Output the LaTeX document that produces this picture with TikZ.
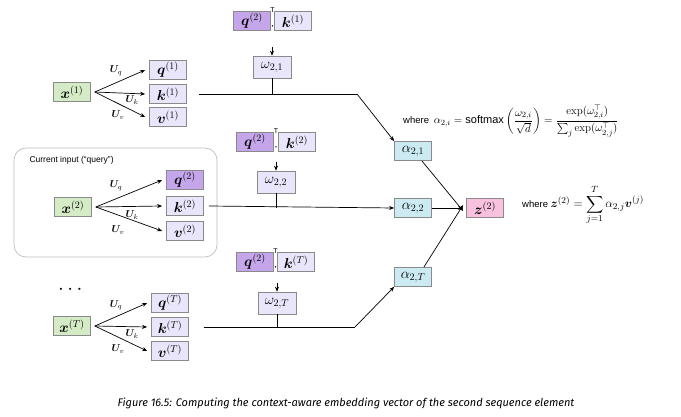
\documentclass[tikz,border=0pt]{standalone}
\usepackage{amsmath,bm}
\usepackage{fontspec}
\newfontfamily\capfont{Fira Sans}
\setsansfont{Liberation Sans}
\usetikzlibrary{arrows.meta,calc}
\definecolor{lav}{HTML}{E9E5FA}
\definecolor{dpur}{HTML}{C6A6EA}
\definecolor{grn}{HTML}{D5EBC6}
\definecolor{cyn}{HTML}{CBEAF2}
\definecolor{pnk}{HTML}{F8C2DE}
\definecolor{bord}{HTML}{8A8A8A}
\begin{document}
\begin{tikzpicture}[x=1pt,y=-1pt,
 box/.style={draw=bord,line width=0.7pt,minimum width=37pt,minimum height=19pt,inner sep=0pt,font=\fontsize{14}{14}\selectfont},
 vb/.style={box,fill=lav},
 qb/.style={box,fill=dpur},
 xb/.style={box,fill=grn},
 ab/.style={box,fill=cyn},
 zb/.style={box,fill=pnk},
 ar/.style={-{Stealth[length=5pt,width=4pt]},line width=0.7pt},
 ln/.style={line width=0.8pt},
 ul/.style={font=\fontsize{10}{10}\selectfont,inner sep=0pt}]
\useasboundingbox (0,0) rectangle (681,417);
% current input box
\draw[rounded corners=12pt,draw=gray!50,line width=0.7pt] (14,148) rectangle (217,257);
\node[anchor=west,font=\sffamily\fontsize{8.5}{8.5}\selectfont] (cur) at (26,160) {Current input (``query'')};
% row 1
\node[xb] (x1) at (72,92) {$\bm{x}^{(1)}$};
\node[vb] (q1) at (168,70) {$\bm{q}^{(1)}$};
\node[vb] (k1) at (168,94) {$\bm{k}^{(1)}$};
\node[vb] (v1) at (168,117) {$\bm{v}^{(1)}$};
% row 2
\node[xb] (x2) at (73,207) {$\bm{x}^{(2)}$};
\node[qb] (q2) at (185,180) {$\bm{q}^{(2)}$};
\node[vb] (k2) at (185,206) {$\bm{k}^{(2)}$};
\node[vb] (v2) at (185,231) {$\bm{v}^{(2)}$};
% row T
\node[font=\fontsize{20}{20}\selectfont] (dots) at (72,290) {$\cdots$};
\node[xb] (xT) at (72,326) {$\bm{x}^{(T)}$};
\node[vb] (qT) at (170,303) {$\bm{q}^{(T)}$};
\node[vb] (kT) at (170,327) {$\bm{k}^{(T)}$};
\node[vb] (vT) at (170,351) {$\bm{v}^{(T)}$};
% arrows from x
\foreach \x/\q/\k/\v in {x1/q1/k1/v1, x2/q2/k2/v2, xT/qT/kT/vT}{
 \coordinate (s) at ([xshift=4pt]\x.east);
 \draw[ar] (s) -- ([xshift=-4pt]\q.west);
 \draw[ar] (s) -- ([xshift=-4pt]\k.west);
 \draw[ar] (s) -- ([xshift=-4pt]\v.west);
}
\foreach \y in {92,207,326}{
 \node[ul] at (116,\y-21) {$\bm{U}_q$};
 \node[ul] at (132,\y+8) {$\bm{U}_k$};
 \node[ul] at (118,\y+23) {$\bm{U}_v$};
}
% dot products
\node[qb] (dq1) at (252,21) {$\bm{q}^{(2)}$};
\node[vb] (dk1) at (293,21) {$\bm{k}^{(1)}$};
\node[qb] (dq2) at (255,142) {$\bm{q}^{(2)}$};
\node[vb] (dk2) at (297,142) {$\bm{k}^{(2)}$};
\node[qb] (dqT) at (255,262) {$\bm{q}^{(2)}$};
\node[vb] (dkT) at (296,262) {$\bm{k}^{(T)}$};
\foreach \a/\b in {dq1/dk1,dq2/dk2,dqT/dkT}{
 \node[font=\sffamily\fontsize{7}{7}\selectfont,inner sep=0pt] at ($(\a.north east)!0.5!(\b.north west)+(0,-1)$) {T};
 \fill ($(\a.south east)!0.5!(\b.south west)+(0,-5)$) circle (0.8pt);
}
\node[vb,minimum width=38pt,minimum height=22pt] (w1) at (272,67) {$\omega_{2,1}$};
\node[vb,minimum width=38pt,minimum height=22pt] (w2) at (276,182) {$\omega_{2,2}$};
\node[vb,minimum width=38pt,minimum height=22pt] (wT) at (277,303) {$\omega_{2,T}$};
\draw[ar,line width=0.6pt] (272,47) -- (w1.north);
\draw[ar,line width=0.6pt] (276,162) -- (w2.north);
\draw[ar,line width=0.6pt] (277,283) -- (wT.north);
% alphas
\node[ab] (a1) at (413,151) {$\alpha_{2,1}$};
\node[ab] (a2) at (413,208) {$\alpha_{2,2}$};
\node[ab] (aT) at (413,277) {$\alpha_{2,T}$};
\node[zb] (z) at (485,208) {$\bm{z}^{(2)}$};
\coordinate (b1) at (357,94);
\coordinate (bT) at (355,327);
\draw[ln] ([xshift=12pt]k1.east) -- (b1);
\draw[ar] (b1) -- (a1.north west);
\draw[ln] (w1.south) -- (w1.south |- b1);
\draw[ar] ([xshift=5pt]k2.east) -- (a2.west);
\draw[ln] (w2.south) -- (w2.south |- a2);
\draw[ln] ([xshift=15pt]kT.east) -- (bT);
\draw[ar] (bT) -- (aT.south west);
\draw[ln] (wT.south) -- (wT.south |- bT);
\draw[ar] ([xshift=-10pt]a1.south east) -- ([xshift=-3pt,yshift=-3pt]z.west);
\draw[ar] (a2.east) -- ([xshift=-3pt]z.west);
\draw[ar] ([xshift=-8pt]aT.north east) -- ([xshift=-3pt,yshift=3pt]z.west);
% formulas
\node[anchor=west,inner sep=0pt] (f1) at (403,121) {\fontsize{9.5}{9.5}\selectfont\sffamily where\enspace \fontsize{11}{11}\selectfont$\alpha_{2,i}=\text{\sffamily softmax}\left(\dfrac{\omega_{2,i}}{\sqrt{d}}\right)=\dfrac{\exp(\omega_{2,i}^{\top})}{\sum_j\exp(\omega_{2,j}^{\top})}$};
\node[anchor=west,inner sep=0pt] (f2) at (522,205) {\fontsize{9.5}{9.5}\selectfont\sffamily where \fontsize{13}{13}\selectfont$\bm{z}^{(2)}=\displaystyle\sum_{j=1}^{T}\alpha_{2,j}\bm{v}^{(j)}$};
\node[font=\capfont\itshape\fontsize{11}{11}\selectfont] (cap) at (346,403) {Figure 16.5: Computing the context-aware embedding vector of the second sequence element};
\end{tikzpicture}
\end{document}
